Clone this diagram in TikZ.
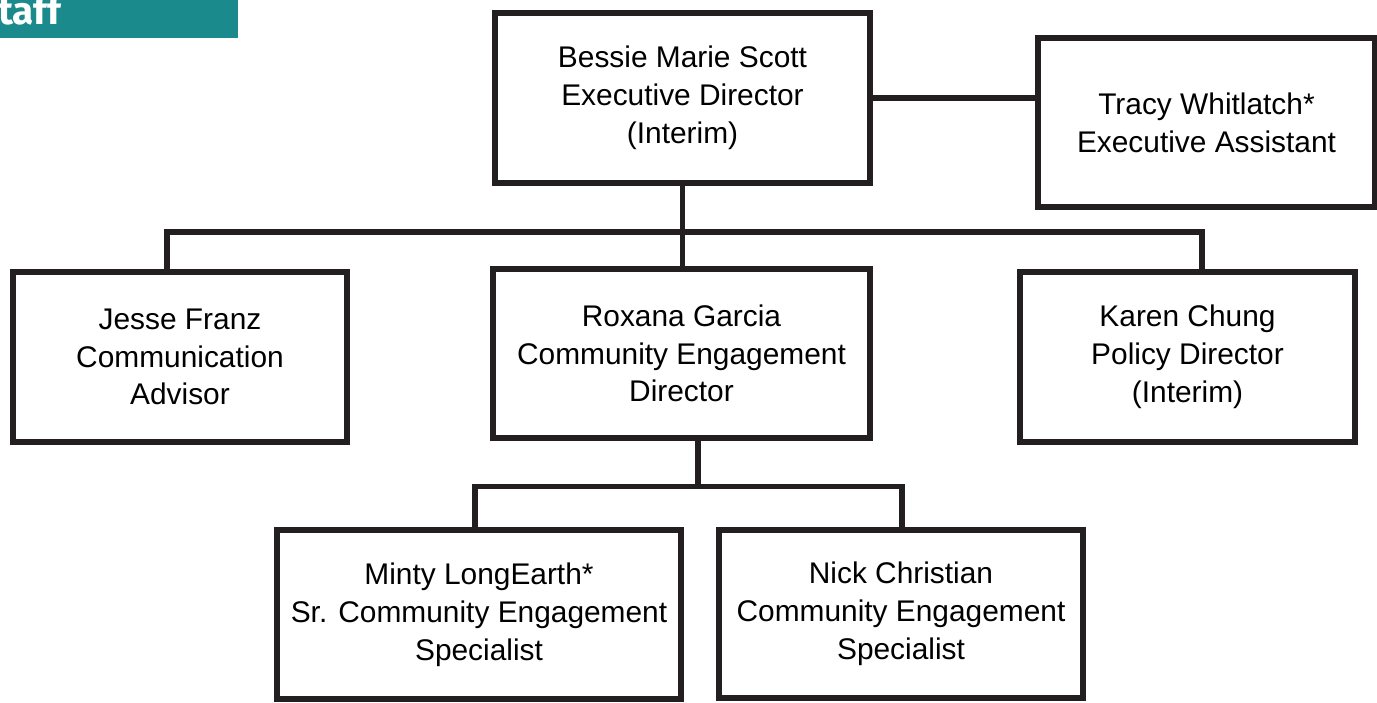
\documentclass[tikz,border=0pt]{standalone}
\usepackage{fontspec}
\setmainfont{Liberation Sans}
\newfontfamily\tabfont{Fira Sans}
\definecolor{tabteal}{RGB}{27,138,140}
\definecolor{boxline}{RGB}{35,31,32}

\tikzset{
  orgbox/.style={draw=boxline, line width=3.4pt, align=center, inner sep=0pt,
    font=\fontsize{17}{21.5}\selectfont},
  orgline/.style={draw=boxline, line width=3.4pt}
}

\begin{document}
\begin{tikzpicture}

\useasboundingbox (0, 0) rectangle (27.54, 14.06);

\fill [tabteal] (0, 13.30) rectangle (4.76, 14.06);
\node [anchor=base west, inner sep=0pt, text=white, font=\tabfont\bfseries\fontsize{22}{22}\selectfont] (tab) at (-0.04, 13.56) {taff};

\node [orgbox, minimum width=7.5cm, minimum height=3.4cm] (exec) at (13.65, 12.10) {Bessie Marie Scott\\Executive Director\\(Interim)};
\node [orgbox, minimum width=6.74cm, minimum height=3.38cm] (assist) at (24.13, 11.61) {Tracy Whitlatch*\\Executive Assistant};

\node [orgbox, minimum width=6.68cm, minimum height=3.4cm] (jesse) at (3.60, 6.92) {Jesse Franz\\Communication\\Advisor};
\node [orgbox, minimum width=7.54cm, minimum height=3.38cm] (roxana) at (13.63, 6.99) {Roxana Garcia\\Community Engagement\\Director};
\node [orgbox, minimum width=6.70cm, minimum height=3.4cm] (karen) at (23.75, 6.92) {Karen Chung\\Policy Director\\(Interim)};

\node [orgbox, minimum width=8.08cm, minimum height=3.38cm] (minty) at (9.58, 1.77) {Minty LongEarth*\\Sr. Community Engagement\\Specialist};
\node [orgbox, minimum width=7.28cm, minimum height=3.36cm] (nick) at (18.02, 1.78) {Nick Christian\\Community Engagement\\Specialist};

\coordinate (trunk) at (13.65, 9.42);
\coordinate (jessedrop) at (3.34, 9.42);
\coordinate (karendrop) at (24.04, 9.42);
\coordinate (subtrunk) at (13.96, 4.33);
\coordinate (mintydrop) at (9.50, 4.33);
\coordinate (nickdrop) at (18.04, 4.33);

\draw [orgline] (exec.east) -- (exec.east -| assist.west);

\draw [orgline] (exec.south) -- (trunk);
\draw [orgline] (jesse.north -| jessedrop) -- (jessedrop) -- (karendrop) -- (karendrop |- karen.north);
\draw [orgline] (trunk) -- (roxana.north -| trunk);

\draw [orgline] (roxana.south -| subtrunk) -- (subtrunk);
\draw [orgline] (minty.north -| mintydrop) -- (mintydrop) -- (nickdrop) -- (nick.north -| nickdrop);

\end{tikzpicture}
\end{document}
